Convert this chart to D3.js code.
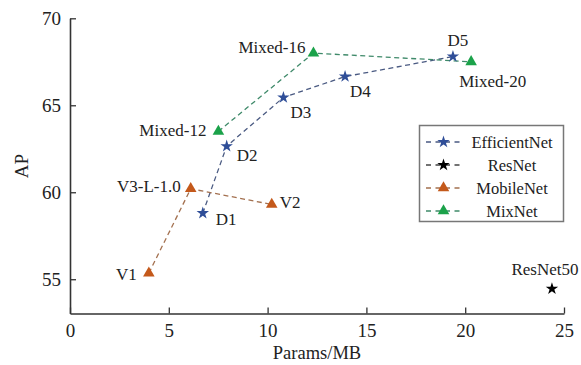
<!DOCTYPE html>
<html>
<head>
<meta charset="utf-8">
<script src="https://cdn.jsdelivr.net/npm/d3@7"></script>
<style>
  body { margin: 0; background: #fff; }
  svg { font-family: "Liberation Serif", "DejaVu Serif", serif; }
</style>
</head>
<body>
<svg id="chart" width="581" height="365"></svg>
<script>
// data
const efficientNet = [
  { name: 'D1', x: 6.72, y: 58.8 },
  { name: 'D2', x: 7.93, y: 62.65 },
  { name: 'D3', x: 10.8, y: 65.45 },
  { name: 'D4', x: 13.92, y: 66.65 },
  { name: 'D5', x: 19.38, y: 67.8 }
];
const resNet = [
  { name: 'ResNet50', x: 24.39, y: 54.45 }
];
const mobileNet = [
  { name: 'V1', x: 3.99, y: 55.35 },
  { name: 'V3-L-1.0', x: 6.11, y: 60.2 },
  { name: 'V2', x: 10.21, y: 59.3 }
];
const mixNet = [
  { name: 'Mixed-12', x: 7.51, y: 63.5 },
  { name: 'Mixed-16', x: 12.32, y: 68.0 },
  { name: 'Mixed-20', x: 20.3, y: 67.5 }
];
const xTicks = [0, 5, 10, 15, 20, 25];
const yTicks = [55, 60, 65, 70];

// label offsets relative to the marker (dx, dy, anchor)
const labelPos = {
  'D1': [13, 12, 'start'], 'D2': [10, 15, 'start'], 'D3': [7, 21, 'start'],
  'D4': [5, 20, 'start'], 'D5': [5, -11, 'middle'], 'ResNet50': [-7, -14, 'middle'],
  'V1': [-12, 7, 'end'], 'V3-L-1.0': [-10, 3, 'end'], 'V2': [8, 4, 'start'],
  'Mixed-12': [-12, 5, 'end'], 'Mixed-16': [-8, 0, 'end'], 'Mixed-20': [-12, 25, 'start']
};

const series = [
  { name: 'EfficientNet', data: efficientNet, shape: d3.symbolStar, size: 48, fill: '#2f4e98', line: '#4a5a82' },
  { name: 'ResNet', data: resNet, shape: d3.symbolStar, size: 48, fill: '#000000', line: '#444444' },
  { name: 'MobileNet', data: mobileNet, shape: d3.symbolTriangle, size: 58, fill: '#c4591b', line: '#a3704f' },
  { name: 'MixNet', data: mixNet, shape: d3.symbolTriangle, size: 58, fill: '#1ba24a', line: '#3f8a6a' }
];

const svg = d3.select('#chart');
const x = d3.scaleLinear().domain([0, 25]).range([70, 564]);
const y = d3.scaleLinear().domain([53.03, 70]).range([313.5, 18.3]);

// axes
const xAxis = d3.axisBottom(x).tickValues(xTicks).tickSize(-6).tickSizeOuter(0).tickPadding(10);
const yAxis = d3.axisLeft(y).tickValues(yTicks).tickSize(-6).tickSizeOuter(0).tickPadding(9);

const gx = svg.append('g').attr('transform', 'translate(0,313.5)').call(xAxis);
const gy = svg.append('g').attr('transform', 'translate(70,0)').call(yAxis);
[gx, gy].forEach(g => {
  g.select('.domain').attr('stroke', '#333').attr('stroke-width', 1.6);
  g.selectAll('.tick line').attr('stroke', '#333').attr('stroke-width', 1.3);
  g.selectAll('.tick text').attr('font-size', 19).attr('fill', '#222')
    .attr('font-family', '"Liberation Serif", serif');
});
gy.selectAll('.tick text').attr('dy', '0.35em');

svg.append('text').attr('x', 317).attr('y', 359).attr('text-anchor', 'middle')
  .attr('font-size', 18.5).attr('fill', '#222').text('Params/MB');
svg.append('text').attr('transform', 'translate(28,166) rotate(-90)').attr('text-anchor', 'middle')
  .attr('font-size', 19).attr('fill', '#222').text('AP');

// lines
const lineFn = d3.line().x(d => x(d.x)).y(d => y(d.y));
series.forEach(s => {
  if (s.data.length > 1) {
    svg.append('path').attr('d', lineFn(s.data)).attr('fill', 'none')
      .attr('stroke', s.line).attr('stroke-width', 1.3).attr('stroke-dasharray', '5,3.5');
  }
});

// markers and labels
series.forEach(s => {
  const sym = d3.symbol().type(s.shape).size(s.size);
  svg.append('g').selectAll('path')
    .data(s.data)
    .join('path')
      .attr('d', sym)
      .attr('transform', d => `translate(${x(d.x)},${y(d.y)})`)
      .attr('fill', s.fill);
  svg.append('g').selectAll('text')
    .data(s.data)
    .join('text')
      .attr('x', d => x(d.x) + labelPos[d.name][0])
      .attr('y', d => y(d.y) + labelPos[d.name][1])
      .attr('text-anchor', d => labelPos[d.name][2])
      .attr('font-size', 17).attr('fill', '#222')
      .text(d => d.name);
});

// legend
const legend = svg.append('g');
legend.append('rect').attr('x', 419.5).attr('y', 125.5).attr('width', 144).attr('height', 96)
  .attr('fill', '#fff').attr('stroke', '#777').attr('stroke-width', 1.5);
series.forEach((s, i) => {
  const ly = 142 + i * 23;
  legend.append('line').attr('x1', 426).attr('x2', 461).attr('y1', ly).attr('y2', ly)
    .attr('stroke', s.line).attr('stroke-width', 1.3).attr('stroke-dasharray', '5,4.5');
  legend.append('path').attr('d', d3.symbol().type(s.shape).size(s.size)())
    .attr('transform', `translate(443.5,${ly})`).attr('fill', s.fill);
  legend.append('text').attr('x', 512).attr('y', ly + 5.5).attr('text-anchor', 'middle')
    .attr('font-size', 16.5).attr('fill', '#222').text(s.name);
});
</script>
</body>
</html>
